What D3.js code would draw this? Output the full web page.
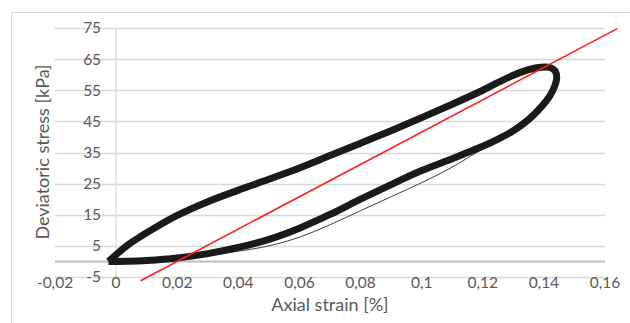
<!DOCTYPE html>
<html>
<head>
<meta charset="utf-8">
<script src="https://cdn.jsdelivr.net/npm/d3@7"></script>
<style>
  body { margin: 0; background: #fff; }
  text { font-family: Lato, "Open Sans", sans-serif; fill: #595959; }
</style>
</head>
<body>
<div id="chart"></div>
<script>
// Chart values
const xTicks = [-0.02, 0, 0.02, 0.04, 0.06, 0.08, 0.1, 0.12, 0.14, 0.16];
const yTicks = [-5, 5, 15, 25, 35, 45, 55, 65, 75];

// one hysteresis loop (many cycles overlap, drawn as a thick band)
const loopStrain = [-0.0025, 0.0005, 0.004, 0.008, 0.013, 0.02, 0.03, 0.04, 0.05, 0.06, 0.07, 0.08, 0.09, 0.10, 0.11, 0.12, 0.125, 0.13, 0.135, 0.139, 0.142, 0.1437,
  0.1442, 0.1436, 0.142, 0.139, 0.135, 0.13, 0.125, 0.12, 0.115, 0.11, 0.10, 0.09, 0.08, 0.07, 0.06, 0.05, 0.04, 0.03, 0.02, 0.01, 0.004, -0.0025];
const loopStress = [0, 2.6, 5.4, 8, 11, 14.8, 19.2, 22.9, 26.4, 30, 34, 38, 42, 46.2, 50.5, 55, 57.5, 59.8, 61.6, 62.4, 62.3, 61.2,
  59, 56.5, 53.3, 49.5, 45.6, 42, 39.3, 37, 35, 33, 29.2, 24.7, 20, 15.1, 10.7, 7.1, 4.5, 2.5, 1.1, 0.3, 0.05, 0];

// first cycle, visible as a thin line under the lower branch
const firstStrain = [0.005, 0.01, 0.02, 0.03, 0.04, 0.05, 0.06, 0.07, 0.08, 0.09, 0.10, 0.11, 0.118, 0.125];
const firstStress = [0, 0.2, 0.8, 1.8, 3.3, 5, 7.8, 11.8, 16.3, 20.8, 25.3, 30.3, 35, 38.8];

// red secant line
const redStrain = [0.008, 0.164];
const redStress = [-6.2, 74.8];

const width = 630, height = 323;

const svg = d3.select("#chart").append("svg")
  .attr("width", width)
  .attr("height", height);

// chart border
svg.append("path")
  .attr("d", "M11.5,323 V12.5 H630")
  .attr("fill", "none")
  .attr("stroke", "#d9d9d9")
  .attr("stroke-width", 1);

const x = d3.scaleLinear().domain([-0.02, 0.16]).range([55, 605]);
const y = d3.scaleLinear().domain([-5, 75]).range([277, 28]);

// horizontal grid
svg.append("g")
  .selectAll("line")
  .data(yTicks)
  .enter()
  .append("line")
  .attr("x1", x(-0.02))
  .attr("x2", x(0.16))
  .attr("y1", d => Math.round(y(d)) + 0.5)
  .attr("y2", d => Math.round(y(d)) + 0.5)
  .attr("stroke", "#d9d9d9")
  .attr("stroke-width", 1.5);

// vertical axis at x = 0
svg.append("line")
  .attr("x1", x(0)).attr("x2", x(0))
  .attr("y1", y(75)).attr("y2", y(-5))
  .attr("stroke", "#d9d9d9")
  .attr("stroke-width", 1.2);

// horizontal axis at y = 0
svg.append("line")
  .attr("x1", x(-0.02)).attr("x2", x(0.16))
  .attr("y1", y(0)).attr("y2", y(0))
  .attr("stroke", "#bfbfbf")
  .attr("stroke-width", 2);

const fmt = d => String(d).replace(".", ",");

// y tick labels next to the axis
svg.append("g")
  .selectAll("text")
  .data(yTicks)
  .enter()
  .append("text")
  .attr("x", x(0) - 15)
  .attr("y", d => y(d))
  .attr("dy", "0.35em")
  .attr("text-anchor", "end")
  .attr("font-size", 15.5)
  .text(d => d);

// x tick labels at the bottom
svg.append("g")
  .selectAll("text")
  .data(xTicks)
  .enter()
  .append("text")
  .attr("x", d => x(d))
  .attr("y", 283)
  .attr("dy", "0.35em")
  .attr("text-anchor", "middle")
  .attr("font-size", 15.5)
  .text(d => fmt(d));

// axis titles
svg.append("text")
  .attr("x", 330)
  .attr("y", 305)
  .attr("dy", "0.35em")
  .attr("text-anchor", "middle")
  .attr("font-size", 18)
  .text("Axial strain [%]");

svg.append("text")
  .attr("transform", "translate(43,152) rotate(-90)")
  .attr("dy", "0.35em")
  .attr("text-anchor", "middle")
  .attr("font-size", 18)
  .text("Deviatoric stress [kPa]");

const line = d3.line()
  .x(d => x(d[0]))
  .y(d => y(d[1]))
  .curve(d3.curveCatmullRom.alpha(0.5));

// thin first cycle
svg.append("path")
  .datum(firstStrain.map((s, i) => [s, firstStress[i]]))
  .attr("d", line)
  .attr("fill", "none")
  .attr("stroke", "#404040")
  .attr("stroke-width", 1);

// thick band of overlapping cycles
svg.append("path")
  .datum(loopStrain.map((s, i) => [s, loopStress[i]]))
  .attr("d", line)
  .attr("fill", "none")
  .attr("stroke", "#1a1a1a")
  .attr("stroke-width", 7)
  .attr("stroke-linejoin", "round");

// red line
svg.append("path")
  .datum(redStrain.map((s, i) => [s, redStress[i]]))
  .attr("d", d3.line().x(d => x(d[0])).y(d => y(d[1])))
  .attr("fill", "none")
  .attr("stroke", "#ff2020")
  .attr("stroke-width", 1.6);
</script>
</body>
</html>
